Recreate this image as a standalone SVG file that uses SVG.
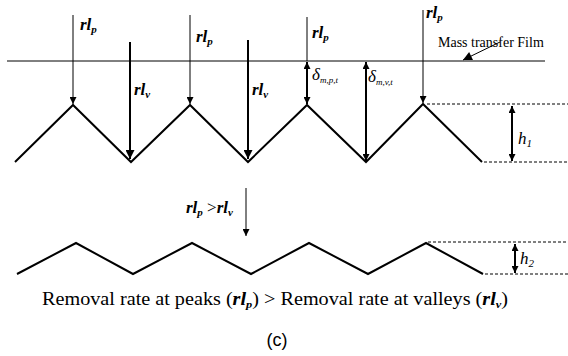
<svg xmlns="http://www.w3.org/2000/svg" width="568" height="356" viewBox="0 0 568 356">
<style>
.zz{fill:none;stroke:#000;stroke-width:2;stroke-linejoin:miter}
.thin{stroke:#000;stroke-width:1;fill:none}
.bold{stroke:#000;stroke-width:2;fill:none}
.dash{stroke:#000;stroke-width:1;stroke-dasharray:3,2;fill:none}
.lbl{font-family:"Liberation Serif",serif;font-style:italic;font-weight:bold;font-size:17px;fill:#000}
.sub{font-size:11px}
.txt{font-family:"Liberation Serif",serif;font-size:16px;fill:#000}
</style>
<defs>
<marker id="ah" viewBox="0 0 10 10" refX="10" refY="5" markerWidth="7" markerHeight="7" markerUnits="userSpaceOnUse" orient="auto-start-reverse"><path d="M0,0 L10,5 L0,10 z" fill="#000"/></marker>
<marker id="ahb" viewBox="0 0 10 10" refX="10" refY="5" markerWidth="10" markerHeight="9" markerUnits="userSpaceOnUse" orient="auto-start-reverse"><path d="M0,0 L10,5 L0,10 z" fill="#000"/></marker>
</defs>

<g id="top-surface">
<polyline class="zz" points="15,162 73,105 131,162 190,105 248,162 307,105 366,162 423,104 482,162"/>
</g>
<g id="film-line">
<line class="thin" x1="7" y1="61" x2="545" y2="61"/>
</g>
<g id="bottom-surface">
<polyline class="zz" points="17,274 76,243 133,274 192,243 251,274 309,243 368,274 426,243 483,274"/>
</g>

<g id="connectors">
<line class="thin" x1="73" y1="15" x2="73" y2="104" marker-end="url(#ah)"/>
<line class="bold" x1="130" y1="42" x2="130" y2="159" marker-end="url(#ahb)"/>
<line class="thin" x1="190" y1="15" x2="190" y2="104" marker-end="url(#ah)"/>
<line class="bold" x1="248" y1="40" x2="248" y2="159" marker-end="url(#ahb)"/>
<line class="thin" x1="307" y1="17" x2="307" y2="61"/>
<line class="bold" x1="307" y1="62" x2="307" y2="104" marker-start="url(#ah)" marker-end="url(#ah)"/>
<line class="bold" x1="366" y1="62" x2="366" y2="161" marker-start="url(#ah)" marker-end="url(#ah)"/>
<line class="thin" x1="423" y1="10" x2="423" y2="103" marker-end="url(#ah)"/>
<line class="thin" x1="500" y1="42" x2="463" y2="60" marker-end="url(#ahb)"/>
<line class="dash" x1="427" y1="104" x2="568" y2="104"/>
<line class="dash" x1="484" y1="162" x2="568" y2="162"/>
<line class="bold" x1="512" y1="106" x2="512" y2="161" marker-start="url(#ah)" marker-end="url(#ah)"/>
<line class="thin" x1="246" y1="188" x2="246" y2="236" marker-end="url(#ah)"/>
<line class="dash" x1="428" y1="242" x2="568" y2="242"/>
<line class="dash" x1="485" y1="274" x2="568" y2="274"/>
<line class="bold" x1="515" y1="244" x2="515" y2="273" marker-start="url(#ah)" marker-end="url(#ah)"/>
</g>

<g id="labels">
<text class="lbl" x="80" y="30">rl<tspan class="sub" dy="3">p</tspan></text>
<text class="lbl" x="134" y="95">rl<tspan class="sub" dy="3">v</tspan></text>
<text class="lbl" x="196" y="42">rl<tspan class="sub" dy="3">p</tspan></text>
<text class="lbl" x="252" y="95">rl<tspan class="sub" dy="3">v</tspan></text>
<text class="lbl" x="312" y="38">rl<tspan class="sub" dy="3">p</tspan></text>
<text class="lbl" x="426" y="18">rl<tspan class="sub" dy="3">p</tspan></text>
<text class="lbl" x="312" y="80" style="font-weight:normal">δ<tspan class="sub" dy="3" style="font-size:9px">m,p,t</tspan></text>
<text class="lbl" x="368" y="82" style="font-weight:normal">δ<tspan class="sub" dy="3" style="font-size:9px">m,v,t</tspan></text>
<text class="txt" x="438" y="47" style="font-size:14px">Mass transfer Film</text>
<text class="lbl" x="518" y="144" style="font-weight:normal">h<tspan class="sub" dy="3">1</tspan></text>
<text class="lbl" x="186" y="213">rl<tspan class="sub" dy="3">p</tspan><tspan dy="-3" style="font-style:normal;font-weight:normal"> &gt;</tspan>rl<tspan class="sub" dy="3">v</tspan></text>
<text class="lbl" x="520" y="264" style="font-weight:normal">h<tspan class="sub" dy="3">2</tspan></text>
<text class="txt" x="42" y="305" style="font-size:18px" textLength="466" lengthAdjust="spacingAndGlyphs">Removal rate at peaks (<tspan style="font-style:italic;font-weight:bold">rl</tspan><tspan style="font-style:italic;font-weight:bold;font-size:11px" dy="3">p</tspan><tspan dy="-3">) &gt; Removal rate at valleys (</tspan><tspan style="font-style:italic;font-weight:bold">rl</tspan><tspan style="font-style:italic;font-weight:bold;font-size:11px" dy="3">v</tspan><tspan dy="-3">)</tspan></text>
<text x="277" y="346" text-anchor="middle" style="font-family:'Liberation Sans',sans-serif;font-size:18px">(c)</text>
</g>
</svg>
